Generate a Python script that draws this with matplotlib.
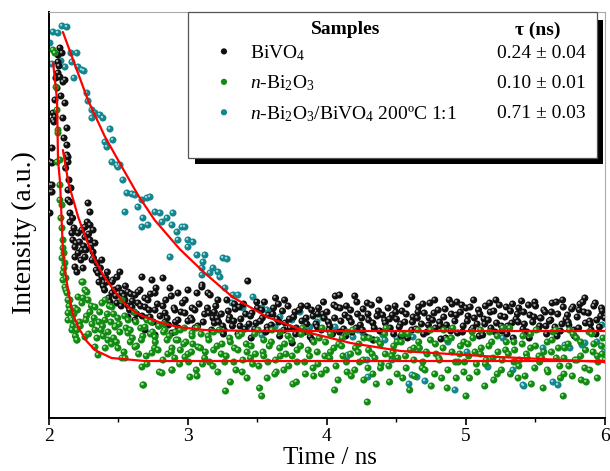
import numpy as np
import matplotlib
matplotlib.use('Agg')
import matplotlib.pyplot as plt
import matplotlib.transforms as mtransforms
from matplotlib.patches import Rectangle
from matplotlib.ticker import MultipleLocator, NullLocator

plt.rcParams['font.family'] = ['Liberation Serif', 'DejaVu Serif']
plt.rcParams['mathtext.fontset'] = 'custom'
plt.rcParams['mathtext.rm'] = 'Liberation Serif'
plt.rcParams['mathtext.it'] = 'Liberation Serif:italic'
plt.rcParams['mathtext.bf'] = 'Liberation Serif:bold'

# (time / ns, intensity / a.u.)
bivo4 = [
    (2.007, 256), (2.007, 233), (2.007, 226), (2.007, 205), (2.022, 270), (2.022, 255), (2.022, 233),
    (2.022, 226), (2.029, 298), (2.029, 305), (2.036, 296), (2.043, 301), (2.043, 318), (2.065, 356),
    (2.065, 363), (2.065, 345), (2.079, 370), (2.079, 341), (2.094, 365), (2.101, 336), (2.115, 338),
    (2.115, 315), (2.129, 290), (2.129, 273), (2.129, 263), (2.137, 261), (2.137, 256), (2.137, 228),
    (2.137, 218), (2.151, 205), (2.151, 216), (2.151, 196), (2.165, 185), (2.172, 178), (2.187, 171),
    (2.187, 161), (2.187, 151), (2.201, 146), (2.209, 185), (2.237, 188), (2.237, 168), (2.259, 191),
    (2.259, 181), (2.259, 161), (2.281, 215), (2.295, 206), (2.295, 193), (2.295, 178), (2.317, 188),
    (2.317, 166), (2.331, 175), (2.345, 155), (2.353, 145), (2.381, 141), (2.417, 136), (2.453, 136),
    (2.453, 125), (2.489, 141), (2.489, 115), (2.525, 125), (2.547, 118), (2.568, 126), (2.568, 101),
    (2.568, 88), (2.597, 111), (2.619, 123), (2.619, 98), (2.640, 115), (2.655, 128), (2.669, 141),
    (2.691, 111), (2.691, 88), (2.712, 118), (2.727, 101), (2.741, 138), (2.763, 125), (2.763, 108),
    (2.763, 83), (2.820, 140), (2.835, 105), (2.835, 96), (2.871, 130), (2.885, 85), (2.906, 108),
    (2.928, 125), (2.928, 98), (2.978, 105), (3.000, 128), (3.029, 98), (3.050, 108), (3.065, 125),
    (3.101, 133), (3.144, 125), (3.150, 105), (3.190, 95),
    (2.050, 340), (2.058, 330), (2.072, 352), (2.086, 322), (2.100, 300), (2.108, 280), (2.120, 250),
    (2.144, 238), (2.158, 230), (2.170, 200), (2.180, 190), (2.195, 175), (2.210, 165), (2.220, 176),
    (2.230, 158), (2.245, 150), (2.250, 172), (2.265, 168), (2.275, 196), (2.285, 184), (2.300, 170),
    (2.310, 158),
    (2.32, 160), (2.34, 148), (2.36, 136), (2.38, 158), (2.40, 128), (2.42, 146), (2.44, 116),
    (2.46, 138), (2.48, 122), (2.51, 146), (2.53, 118), (2.55, 132), (2.57, 112), (2.59, 124),
    (2.61, 106), (2.64, 126), (2.67, 102), (2.69, 120), (2.72, 108), (2.74, 96), (2.77, 130),
    (2.79, 92), (2.82, 112), (2.85, 100), (2.88, 122), (2.91, 96), (2.95, 106), (2.98, 118),
    (3.02, 100), (3.05, 90), (3.08, 114), (3.11, 96), (3.14, 110), (3.17, 88), (3.19, 106),
    (2.37, 150), (2.39, 132), (2.41, 140), (2.43, 120), (2.47, 128), (2.50, 130), (2.52, 112),
    (2.54, 122), (2.58, 108), (2.60, 117), (2.63, 104), (2.66, 112), (2.70, 100), (2.73, 124),
    (2.75, 96), (2.78, 114), (2.80, 102), (2.84, 118), (2.86, 93), (2.90, 110), (2.93, 90),
    (2.96, 115), (3.00, 97), (3.03, 110), (3.07, 92), (3.10, 131), (3.12, 104), (3.16, 123), (3.18, 100),
    (3.20, 112), (3.22, 96), (3.24, 104), (3.26, 88), (3.28, 118), (3.30, 101), (3.32, 92), (3.34, 109),
    (3.36, 84), (3.38, 99), (3.40, 114), (3.43, 137), (3.44, 94), (3.46, 105), (3.48, 89), (3.50, 110),
    (3.52, 97), (3.55, 116), (3.56, 86), (3.58, 103), (3.60, 93), (3.63, 120), (3.64, 99), (3.66, 82),
    (3.68, 107), (3.70, 95), (3.72, 112), (3.75, 75), (3.76, 101), (3.78, 90), (3.80, 108), (3.82, 97),
    (3.84, 86), (3.86, 112), (3.88, 81), (3.90, 102), (3.92, 94), (3.94, 110), (3.96, 88), (3.98, 100),
    (4.00, 106), (4.02, 92), (4.04, 84), (4.06, 122), (4.07, 111), (4.09, 123), (4.10, 97), (4.12, 89),
    (4.14, 112), (4.16, 100), (4.18, 86), (4.20, 122), (4.22, 104), (4.24, 93), (4.26, 109), (4.28, 81),
    (4.30, 98), (4.32, 113), (4.34, 90), (4.36, 102), (4.38, 87), (4.40, 103), (4.42, 95), (4.44, 110),
    (4.47, 103), (4.48, 84), (4.50, 99), (4.52, 91), (4.54, 107), (4.56, 96), (4.58, 80), (4.61, 121),
    (4.62, 101), (4.64, 89), (4.66, 111), (4.68, 94), (4.70, 105), (4.72, 86), (4.74, 115), (4.76, 98),
    (4.78, 90), (4.80, 108), (4.82, 79), (4.84, 101), (4.86, 93), (4.88, 118), (4.90, 114), (4.92, 97),
    (4.94, 85), (4.96, 106), (4.98, 92), (5.00, 110), (5.03, 111), (5.04, 88), (5.06, 100), (5.08, 94),
    (5.10, 104), (5.12, 83), (5.14, 112), (5.16, 98), (5.18, 90), (5.20, 107), (5.22, 95), (5.24, 113),
    (5.26, 87), (5.28, 101), (5.30, 92), (5.32, 107), (5.34, 80), (5.36, 99), (5.38, 110), (5.40, 117),
    (5.42, 94), (5.44, 86), (5.46, 103), (5.48, 96), (5.50, 112), (5.52, 89), (5.54, 100), (5.56, 108),
    (5.58, 84), (5.60, 97), (5.62, 115), (5.64, 91), (5.66, 104), (5.68, 87), (5.70, 111), (5.72, 99),
    (5.74, 93), (5.76, 109), (5.78, 82), (5.80, 101), (5.82, 114), (5.84, 116), (5.86, 95), (5.88, 105),
    (5.90, 88), (5.92, 112), (5.94, 98), (5.96, 91), (5.98, 107), (6.00, 100),
    (3.21, 100), (3.25, 92), (3.29, 107), (3.33, 97), (3.37, 111), (3.41, 89), (3.45, 102), (3.49, 95),
    (3.53, 108), (3.57, 91), (3.61, 104), (3.65, 114), (3.69, 88), (3.73, 99), (3.77, 106), (3.81, 84),
    (3.85, 100), (3.89, 108), (3.93, 91), (3.97, 104), (4.01, 96), (4.05, 113), (4.09, 86), (4.13, 103),
    (4.17, 108), (4.21, 90), (4.25, 100), (4.29, 115), (4.33, 95), (4.37, 107), (4.41, 86), (4.45, 99),
    (4.49, 112), (4.53, 94), (4.57, 104), (4.61, 88), (4.65, 100), (4.69, 114), (4.73, 93), (4.77, 105),
    (4.81, 96), (4.85, 109), (4.89, 87), (4.93, 103), (4.97, 113), (5.01, 97), (5.05, 90), (5.09, 108),
    (5.13, 99), (5.17, 115), (5.21, 86), (5.25, 102), (5.29, 111), (5.33, 95), (5.37, 104), (5.41, 89),
    (5.45, 113), (5.49, 101), (5.53, 92), (5.57, 106), (5.61, 98), (5.65, 116), (5.69, 94), (5.73, 103),
    (5.77, 111), (5.81, 90), (5.85, 106), (5.89, 97), (5.93, 115), (5.97, 102),
    (3.215, 118), (3.255, 84), (3.295, 98), (3.335, 114), (3.375, 92), (3.415, 104), (3.455, 80),
    (3.495, 116), (3.535, 100), (3.575, 88), (3.615, 110), (3.655, 96), (3.695, 118), (3.735, 90),
    (3.775, 84), (3.815, 112), (3.855, 94), (3.895, 78), (3.935, 104), (3.975, 116), (4.015, 88),
    (4.055, 100), (4.095, 110), (4.135, 82), (4.175, 96), (4.215, 116), (4.255, 88), (4.295, 104),
    (4.335, 78), (4.375, 118), (4.415, 98), (4.455, 90), (4.495, 106), (4.535, 82), (4.575, 114),
    (4.615, 96), (4.655, 106), (4.695, 84), (4.735, 100), (4.775, 118), (4.815, 92), (4.855, 80),
    (4.895, 104), (4.935, 116), (4.975, 86), (5.015, 102), (5.055, 118), (5.095, 82), (5.135, 94),
    (5.175, 106), (5.215, 118), (5.255, 92), (5.295, 84), (5.335, 114), (5.375, 96), (5.415, 106),
    (5.455, 80), (5.495, 116), (5.535, 100), (5.575, 92), (5.615, 106), (5.655, 82), (5.695, 118),
    (5.735, 96), (5.775, 88), (5.815, 108), (5.855, 120), (5.895, 94), (5.935, 84), (5.975, 110),
]

bi2o3 = [
    (2.029, 368), (2.043, 365), (2.051, 331), (2.058, 308), (2.065, 288), (2.065, 285), (2.058, 256),
    (2.079, 258), (2.079, 233), (2.079, 218), (2.094, 213), (2.101, 178), (2.101, 170), (2.094, 160),
    (2.101, 145), (2.108, 150), (2.101, 138), (2.115, 131), (2.122, 128), (2.137, 118), (2.151, 108),
    (2.137, 98), (2.165, 88), (2.201, 78), (2.237, 136), (2.259, 128), (2.281, 118), (2.237, 115),
    (2.331, 111), (2.245, 136), (2.273, 126), (2.209, 121), (2.151, 118), (2.137, 105), (2.165, 98),
    (2.201, 88), (2.201, 78), (2.331, 71), (2.353, 63), (2.547, 60), (2.669, 51), (2.676, 33),
    (2.813, 45), (2.885, 48), (3.014, 41), (2.295, 106), (2.381, 115), (2.453, 111), (2.525, 118),
    (2.403, 98), (2.475, 91), (2.568, 85), (2.691, 91), (2.763, 81), (2.835, 88), (2.928, 78),
    (3.029, 85), (3.072, 71), (2.619, 71), (2.741, 65), (2.885, 70), (2.978, 61), (2.331, 88),
    (2.259, 81), (2.496, 70), (2.424, 78), (2.18, 104), (2.22, 96), (2.27, 102), (2.31, 94),
    (2.086, 200), (2.094, 190), (2.108, 165), (2.115, 155), (2.122, 140), (2.130, 125), (2.144, 112),
    (2.158, 100), (2.172, 92), (2.186, 110), (2.190, 82),
    (2.36, 96), (2.39, 82), (2.42, 104), (2.45, 74), (2.48, 92), (2.51, 86), (2.54, 66), (2.57, 98),
    (2.60, 80), (2.63, 72), (2.66, 90), (2.68, 33), (2.70, 62), (2.73, 84), (2.76, 70), (2.79, 92),
    (2.82, 58), (2.85, 78), (2.88, 66), (2.91, 86), (2.94, 54), (2.97, 74), (3.00, 64), (3.03, 82),
    (3.06, 48), (3.09, 70), (3.12, 60), (3.15, 78), (3.18, 52), (3.21, 72), (3.24, 64), (3.27, 27),
    (3.30, 80), (3.33, 56), (3.36, 68), (3.39, 46), (3.42, 74), (3.45, 60), (3.48, 84), (3.51, 52),
    (3.53, 22), (3.54, 66), (3.57, 40), (3.60, 76), (3.63, 58), (3.66, 70), (3.69, 48), (3.72, 82),
    (3.75, 62), (3.78, 36), (3.81, 72), (3.84, 56), (3.87, 86), (3.90, 50), (3.93, 66), (3.96, 44),
    (3.99, 76), (4.02, 60), (4.05, 70), (4.08, 38), (4.11, 80), (4.14, 56), (4.17, 64), (4.20, 48),
    (4.23, 74), (4.26, 58), (4.29, 16), (4.30, 68), (4.33, 44), (4.36, 78), (4.39, 54), (4.42, 64),
    (4.45, 36), (4.48, 72), (4.51, 60), (4.54, 84), (4.57, 50), (4.60, 68), (4.63, 42), (4.66, 76),
    (4.69, 56), (4.72, 64), (4.75, 32), (4.78, 74), (4.81, 58), (4.84, 88), (4.87, 48), (4.90, 66),
    (4.93, 40), (4.96, 72), (4.99, 56), (5.00, 22), (5.02, 62), (5.05, 80), (5.08, 46), (5.11, 70),
    (5.14, 54), (5.17, 86), (5.20, 38), (5.23, 66), (5.26, 58), (5.29, 76), (5.32, 44), (5.35, 68),
    (5.38, 52), (5.41, 82), (5.44, 60), (5.47, 34), (5.50, 72), (5.53, 56), (5.56, 66), (5.59, 46),
    (5.62, 78), (5.65, 60), (5.68, 40), (5.70, 22), (5.71, 70), (5.74, 52), (5.77, 84), (5.80, 58),
    (5.83, 38), (5.86, 68), (5.89, 48), (5.92, 74), (5.95, 56), (5.98, 64),
    (2.375, 88), (2.405, 70), (2.435, 112), (2.465, 80), (2.495, 100), (2.525, 60), (2.555, 90),
    (2.585, 76), (2.615, 106), (2.645, 64), (2.675, 82), (2.705, 54), (2.735, 96), (2.765, 76),
    (2.795, 46), (2.825, 86), (2.855, 64), (2.885, 48), (2.915, 78), (2.945, 68), (2.975, 90),
    (3.005, 56), (3.035, 74), (3.065, 42), (3.095, 84), (3.125, 66), (3.155, 56), (3.185, 86),
    (3.215, 46), (3.245, 74), (3.275, 62), (3.305, 36), (3.335, 70), (3.365, 82), (3.395, 58),
    (3.425, 40), (3.455, 72), (3.485, 64), (3.515, 30), (3.545, 78), (3.575, 56), (3.605, 88),
    (3.635, 46), (3.665, 62), (3.695, 74), (3.725, 52), (3.755, 34), (3.785, 68), (3.815, 84),
    (3.845, 44), (3.875, 62), (3.905, 76), (3.935, 54), (3.965, 90), (3.995, 48), (4.025, 66),
    (4.055, 28), (4.085, 74), (4.115, 62), (4.145, 86), (4.175, 42), (4.205, 70), (4.235, 56),
    (4.265, 80), (4.295, 50), (4.325, 64), (4.355, 34), (4.385, 74), (4.415, 84), (4.445, 52),
    (4.475, 66), (4.505, 44), (4.535, 76), (4.565, 62), (4.595, 28), (4.625, 70), (4.655, 88),
    (4.685, 50), (4.715, 66), (4.745, 78), (4.775, 44), (4.805, 60), (4.835, 70), (4.865, 30),
    (4.895, 80), (4.925, 56), (4.955, 64), (4.985, 46), (5.015, 74), (5.045, 86), (5.075, 54),
    (5.105, 64), (5.135, 32), (5.165, 72), (5.195, 60), (5.225, 82), (5.255, 48), (5.285, 68),
    (5.315, 90), (5.345, 56), (5.375, 40), (5.405, 74), (5.435, 64), (5.465, 84), (5.495, 50),
    (5.525, 62), (5.555, 30), (5.585, 76), (5.615, 66), (5.645, 88), (5.675, 52), (5.705, 60),
    (5.735, 74), (5.765, 42), (5.795, 80), (5.825, 62), (5.855, 50), (5.885, 86), (5.915, 66),
    (5.945, 40), (5.975, 72), (6.000, 58),
    (2.205, 108), (2.225, 92), (2.245, 120), (2.265, 98), (2.285, 84), (2.305, 112), (2.325, 100),
    (2.345, 80), (2.365, 106), (2.385, 92), (2.405, 118), (2.425, 86), (2.445, 96), (2.465, 104),
    (2.485, 76), (2.505, 94), (2.545, 102), (2.585, 88), (2.625, 96), (2.665, 78), (2.705, 98),
    (2.745, 86), (2.785, 68), (2.825, 94), (2.865, 82), (2.905, 60), (2.945, 88), (2.985, 76),
    (3.025, 66), (3.065, 90), (3.105, 54), (3.145, 82), (3.185, 68), (3.225, 88), (3.265, 56),
    (3.305, 76), (3.345, 48), (3.385, 84), (3.425, 66), (3.465, 54), (3.505, 88), (3.545, 62),
    (3.585, 72), (3.625, 44), (3.665, 86), (3.705, 64), (3.745, 78), (3.785, 56), (3.825, 90),
    (3.865, 68), (3.905, 42), (3.945, 80), (3.985, 62), (4.025, 84), (4.065, 52), (4.105, 72),
    (4.145, 46), (4.185, 88), (4.225, 66), (4.265, 38), (4.305, 80), (4.345, 60), (4.385, 50),
    (4.425, 90), (4.465, 62), (4.505, 76), (4.545, 40), (4.585, 84), (4.625, 58), (4.665, 70),
    (4.705, 48), (4.745, 88), (4.785, 64), (4.825, 40), (4.865, 78), (4.905, 90), (4.945, 56),
    (4.985, 76), (5.025, 40), (5.065, 66), (5.105, 88), (5.145, 58), (5.185, 76), (5.225, 44),
    (5.265, 90), (5.305, 64), (5.345, 76), (5.385, 58), (5.425, 42), (5.465, 70), (5.505, 88),
    (5.545, 60), (5.585, 48), (5.625, 86), (5.665, 70), (5.705, 44), (5.745, 88), (5.785, 58),
    (5.825, 76), (5.865, 36), (5.905, 84), (5.945, 62), (5.985, 80),
]

composite = [
    (2.094, 392), (2.129, 391), (2.029, 386), (2.065, 385), (2.007, 375), (2.158, 365), (2.201, 365),
    (2.086, 357), (2.022, 354), (2.165, 356), (2.209, 351), (2.237, 348), (2.252, 347), (2.115, 351),
    (2.180, 340), (2.273, 325), (2.281, 317), (2.309, 308), (2.331, 305), (2.367, 303), (2.388, 300),
    (2.309, 300), (2.439, 289), (2.460, 278), (2.403, 276), (2.417, 271), (2.453, 256), (2.489, 253),
    (2.511, 253), (2.496, 251), (2.532, 238), (2.561, 225), (2.597, 224), (2.619, 223), (2.669, 218),
    (2.705, 220), (2.727, 221), (2.640, 211), (2.547, 206), (2.763, 206), (2.799, 205), (2.849, 200),
    (2.892, 205), (2.676, 200), (2.669, 191), (2.712, 193), (2.813, 196), (2.885, 193), (2.921, 186),
    (2.957, 191), (2.978, 191), (3.000, 178), (3.036, 176), (2.928, 178), (2.871, 161), (3.000, 171),
    (3.065, 163), (3.101, 143), (3.122, 163), (3.108, 156), (3.101, 150), (3.158, 145), (3.180, 150),
    (3.216, 146), (3.230, 141), (3.252, 160), (3.281, 159), (3.266, 130), (3.324, 123), (3.360, 123),
    (3.317, 115), (3.468, 121), (3.396, 110), (3.532, 110), (3.568, 108), (3.604, 105), (3.662, 101),
    (3.626, 91), (3.532, 83), (3.424, 91), (3.748, 98), (3.806, 106), (3.878, 91), (3.971, 100),
    (4.058, 91), (4.259, 85), (4.331, 78), (4.417, 78), (4.187, 81), (4.144, 61), (4.288, 58),
    (4.295, 41), (3.928, 96), (3.863, 90), (4.223, 88), (4.403, 83), (4.504, 80), (4.619, 81),
    (4.151, 63), (4.468, 58), (4.612, 43), (4.647, 41), (4.871, 76), (5.007, 66), (5.266, 80),
    (5.554, 70), (5.835, 73), (5.978, 93), (4.705, 37), (4.921, 28), (5.410, 33), (5.662, 33),
    (5.158, 51), (5.338, 48), (5.532, 58), (5.748, 70), (5.942, 76), (5.712, 73), (5.856, 75),
    (5.995, 66), (5.626, 36), (4.590, 34), (5.417, 32),
]

# red exponential fits
fit_bivo4_t = [2.10, 2.14, 2.21, 2.27, 2.33, 2.39, 2.45, 2.51, 2.57, 2.63, 2.69, 2.81, 2.93, 3.12, 3.50, 4.50, 6.00]
fit_bivo4_i = [268, 235, 201, 178, 158, 143, 131, 120, 111, 105, 101, 95, 91, 88, 87, 87, 87]
fit_bi2o3_t = [2.03, 2.045, 2.058, 2.065, 2.08, 2.10, 2.12, 2.137, 2.17, 2.21, 2.27, 2.33, 2.45, 2.69, 3.20, 6.00]
fit_bi2o3_i = [355, 335, 318, 258, 235, 168, 143, 128, 105, 91, 77, 68, 60, 57, 57, 57]
fit_comp_t = [2.10, 2.19, 2.28, 2.40, 2.525, 2.64, 2.76, 2.94, 3.12, 3.32, 3.57, 3.88, 4.17, 4.53, 5.24, 6.00]
fit_comp_i = [386, 352, 318, 282, 251, 223, 198, 169, 145, 121, 101, 85, 75, 67, 61, 56]

legend_rows = [r'BiVO$_4$', r'$\mathit{n}$-Bi$_2$O$_3$', r'$\mathit{n}$-Bi$_2$O$_3$/BiVO$_4$ 200ºC 1:1']
tau_labels = ['0.24 ± 0.04', '0.10 ± 0.01', '0.71 ± 0.03']

styles = [('#101010', '#9a9a9a'), ('#138a13', '#8fdc8f'), ('#14868e', '#9ad8dc')]

fig = plt.figure(figsize=(6.10, 4.71), dpi=100)
ax = fig.add_axes([0.0803, 0.1125, 0.9115, 0.862])

hl = mtransforms.offset_copy(ax.transData, fig=fig, x=-0.7, y=0.7, units='points')

def balls(data, base, light, z):
    d = np.array(data)
    ax.scatter(d[:, 0], d[:, 1], s=26, color=base, edgecolors='none', zorder=z)
    ax.scatter(d[:, 0], d[:, 1], s=3, color=light, edgecolors='none', zorder=z, transform=hl)

balls(composite, *styles[2], 2)
balls(bivo4, *styles[0], 3)
balls(bi2o3, *styles[1], 4)

for t, i in [(fit_bivo4_t, fit_bivo4_i), (fit_bi2o3_t, fit_bi2o3_i), (fit_comp_t, fit_comp_i)]:
    ax.plot(t, i, color='#ff0000', lw=1.6, zorder=6, solid_capstyle='round')

ax.set_xlim(2, 6)
ax.set_ylim(0, 406)
ax.xaxis.set_major_locator(MultipleLocator(1))
ax.xaxis.set_minor_locator(MultipleLocator(0.5))
ax.yaxis.set_major_locator(NullLocator())
ax.tick_params(axis='x', which='major', direction='out', length=5, width=1.2, labelsize=14, pad=2)
ax.tick_params(axis='x', which='minor', direction='out', length=3, width=1.0)
for s in ['left', 'bottom']:
    ax.spines[s].set_linewidth(1.4)
    ax.spines[s].set_color('black')
for s in ['top', 'right']:
    ax.spines[s].set_linewidth(0.8)
    ax.spines[s].set_color('#aaaaaa')

ax.set_xlabel('Time / ns', fontsize=18)
ax.xaxis.set_label_coords(0.505, -0.0705)
ax.set_ylabel('Intensity (a.u.)', fontsize=20)
ax.yaxis.set_label_coords(-0.022, 0.456)

# legend panel with drop shadow
ax.add_patch(Rectangle((0.2626, 0.6256), 0.7338, 0.3544, transform=ax.transAxes,
                       facecolor='black', edgecolor='none', zorder=10, clip_on=False))
ax.add_patch(Rectangle((0.25, 0.640), 0.7356, 0.360, transform=ax.transAxes,
                       facecolor='white', edgecolor='#555555', lw=0.9, zorder=11, clip_on=False))
ax.text(0.534, 0.956, 'Samples', transform=ax.transAxes, fontsize=14, fontweight='bold',
        ha='center', va='center', zorder=12)
ax.text(0.8795, 0.956, 'τ (ns)', transform=ax.transAxes, fontsize=14, fontweight='bold',
        ha='center', va='center', zorder=12)
row_y = [0.899, 0.824, 0.749]
for k in range(3):
    base, light = styles[k]
    ax.scatter([0.3147], [row_y[k] + 0.004], s=20, color=base, edgecolors='none',
               transform=ax.transAxes, zorder=12, clip_on=False)
    ax.text(0.3615, row_y[k], legend_rows[k], transform=ax.transAxes, fontsize=14,
            ha='left', va='center', zorder=12)
    ax.text(0.885, row_y[k], tau_labels[k], transform=ax.transAxes, fontsize=14,
            ha='center', va='center', zorder=12)

fig.savefig('out.png', dpi=100)
